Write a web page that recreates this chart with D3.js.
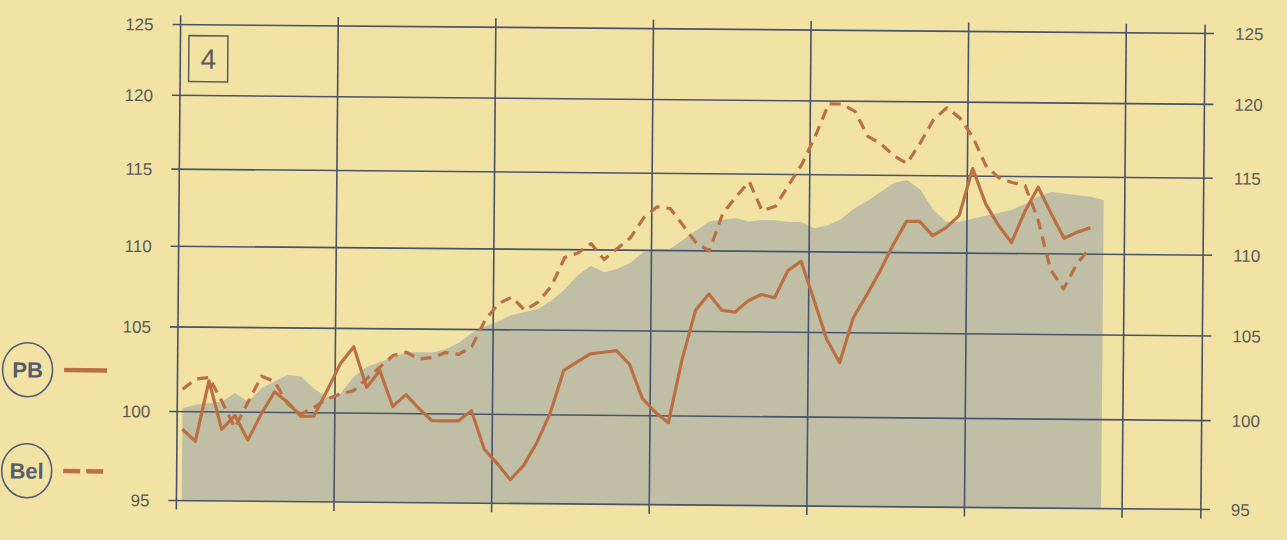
<!DOCTYPE html>
<html><head><meta charset="utf-8">
<script src="https://cdn.jsdelivr.net/npm/d3@7"></script>
<style>html,body{margin:0;padding:0;background:#f2e3a4;}svg{display:block}</style>
</head><body>
<svg id="c" width="1287" height="540"></svg>
<script>
// ---- data (monthly index values, log scale) ----
const yTicks = [95, 100, 105, 110, 115, 120, 125];
const yearLines = [0, 12, 24, 36, 48, 60, 72, 78];
const panelLabel = "4";
const seriesNames = ["PB", "Bel"];
const pb = [99.0, 98.3, 101.8, 99.0, 99.8, 98.4, 99.9, 101.2, 100.6, 99.8,
  99.8, 101.3, 102.9, 103.9, 101.5, 102.5, 100.4, 101.1, 100.3, 99.6,
  99.6, 99.6, 100.2, 98.0, 97.2, 96.3, 97.1, 98.4, 100.1, 102.6,
  103.1, 103.6, 103.7, 103.8, 103.0, 101.0, 100.2, 99.6, 103.3, 106.3,
  107.3, 106.3, 106.2, 106.9, 107.3, 107.1, 108.8, 109.4, 107.0, 104.6,
  103.2, 105.9, 107.3, 108.8, 110.5, 112.0, 112.0, 111.1, 111.6, 112.4,
  115.5, 113.2, 111.8, 110.7, 112.7, 114.3, 112.6, 111.0, 111.4, 111.7];
const bel = [101.3, 101.9, 102.0, 100.6, 99.1, 100.6, 102.1, 101.8, 100.5, 99.9,
  100.3, 100.8, 101.1, 101.3, 102.0, 102.7, 103.4, 103.6, 103.2, 103.3,
  103.6, 103.5, 104.0, 105.6, 106.6, 107.0, 106.2, 106.7, 107.7, 109.5,
  109.8, 110.4, 109.4, 110.1, 110.8, 112.1, 112.8, 112.7, 111.6, 110.5,
  110.0, 112.4, 113.5, 114.5, 112.6, 112.9, 114.3, 115.7, 117.6, 119.8,
  119.8, 119.3, 117.6, 117.1, 116.3, 115.8, 117.2, 118.8, 119.6, 118.9,
  117.6, 115.7, 114.9, 114.6, 114.4, 112.2, 109.0, 107.8, 109.4, 110.4];
const shaded = [100.2, 100.4, 100.5, 100.6, 101.1, 100.6, 101.4, 101.8, 102.2, 102.1,
  101.4, 100.9, 101.1, 102.1, 102.7, 103.0, 103.3, 103.6, 103.6, 103.6,
  103.8, 104.2, 104.8, 105.2, 105.5, 105.9, 106.1, 106.3, 106.8, 107.5,
  108.4, 109.0, 108.6, 108.8, 109.2, 109.9, 110.1, 110.1, 110.7, 111.3,
  111.9, 112.0, 112.1, 111.9, 112.0, 112.0, 111.9, 111.9, 111.5, 111.7,
  112.1, 112.8, 113.3, 113.9, 114.5, 114.7, 114.1, 112.8, 112.0, 112.0,
  112.2, 112.4, 112.6, 112.8, 113.2, 113.7, 114.0, 113.9, 113.8, 113.7, 113.5];

// ---- styles ----
const BG = "#f2e3a4", GRID = "#48536c", LINE = "#bb7043", AREA = "#c0bfa6", TXT = "#5a5b58";
const W = 1287, H = 540;
const svg = d3.select("#c");
svg.append("rect").attr("width", W).attr("height", H).attr("fill", BG);
const g = svg.append("g").attr("transform", "rotate(0.5,690,265)");

const x = d3.scaleLinear().domain([0, 78]).range([178.5, 1203]);
const y = d3.scaleLog().domain([95, 125]).range([505, 29]);
const off = 0.4;

// shaded area
g.append("path").datum(shaded)
  .attr("d", d3.area().x((d, i) => x(i + off)).y0(y(95)).y1(d => y(d)))
  .attr("fill", AREA);

// grid
g.selectAll("line.h").data(yTicks).join("line").attr("class", "h")
  .attr("x1", x(0) - 8).attr("x2", x(78) + 9)
  .attr("y1", d => y(d)).attr("y2", d => y(d))
  .attr("stroke", GRID).attr("stroke-width", 1.6);
g.selectAll("line.v").data(yearLines).join("line").attr("class", "v")
  .attr("x1", d => x(d)).attr("x2", d => x(d))
  .attr("y1", y(125) - 9).attr("y2", y(95) + 9)
  .attr("stroke", GRID).attr("stroke-width", 1.6);

// axis labels
const fnt = "'Liberation Sans', Arial, sans-serif";
g.selectAll("text.l").data(yTicks).join("text").attr("class", "l")
  .attr("x", x(0) - 27).attr("y", d => y(d)).attr("dy", "0.36em")
  .attr("text-anchor", "end").attr("font-family", fnt).attr("font-size", 17)
  .attr("fill", TXT).text(d => d);
g.selectAll("text.r").data(yTicks).join("text").attr("class", "r")
  .attr("x", x(78) + 30).attr("y", d => y(d)).attr("dy", "0.36em")
  .attr("text-anchor", "start").attr("font-family", fnt).attr("font-size", 17)
  .attr("fill", TXT).text(d => d);

// panel number box
g.append("rect").attr("x", 187).attr("y", 40).attr("width", 39).attr("height", 46)
  .attr("fill", "none").attr("stroke", TXT).attr("stroke-width", 1.5);
g.append("text").attr("x", 206.5).attr("y", 63).attr("dy", "0.36em")
  .attr("text-anchor", "middle").attr("font-family", fnt).attr("font-size", 28)
  .attr("fill", TXT).text(panelLabel);

// lines
const ln = d3.line().x((d, i) => x(i + off)).y(d => y(d));
g.append("path").datum(bel).attr("d", ln).attr("fill", "none")
  .attr("stroke", LINE).attr("stroke-width", 3.2).attr("stroke-dasharray", "11,7")
  .attr("stroke-linejoin", "round");
g.append("path").datum(pb).attr("d", ln).attr("fill", "none")
  .attr("stroke", LINE).attr("stroke-width", 3.2).attr("stroke-linejoin", "round");

// legend
const leg = [{name: seriesNames[0], cy: 375.5, dash: null},
             {name: seriesNames[1], cy: 476.5, dash: "17,6"}];
leg.forEach(l => {
  g.append("ellipse").attr("cx", 28.5).attr("cy", l.cy).attr("rx", 25).attr("ry", 27)
    .attr("fill", BG).attr("stroke", "#4f5b78").attr("stroke-width", 1.6);
  g.append("text").attr("x", 28.5).attr("y", l.cy).attr("dy", "0.36em")
    .attr("text-anchor", "middle").attr("font-family", fnt).attr("font-weight", "bold")
    .attr("font-size", 22).attr("fill", "#535d6e").text(l.name);
  const seg = g.append("line").attr("x1", 65).attr("x2", 108).attr("y1", l.cy).attr("y2", l.cy)
    .attr("stroke", LINE).attr("stroke-width", 4.5);
  if (l.dash) seg.attr("stroke-dasharray", l.dash);
});
</script>
</body></html>
